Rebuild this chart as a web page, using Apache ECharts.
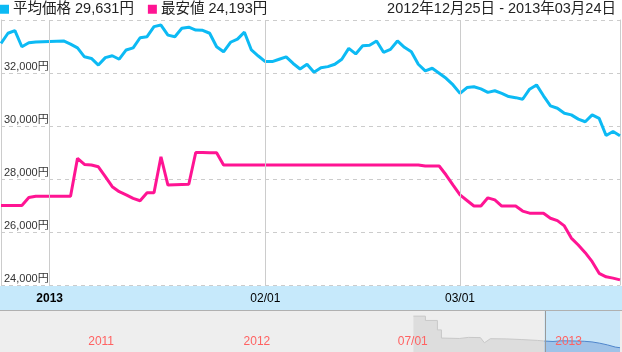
<!DOCTYPE html>
<html><head><meta charset="utf-8">
<script src="https://cdn.jsdelivr.net/npm/echarts@6/dist/echarts.min.js"></script>
<style>html,body{margin:0;padding:0;background:#fff}#c{width:622px;height:352px}</style>
</head><body><div id="c"></div>
<script>
const startDate = [2012, 11, 25];
const dayCount = 90;
const seriesNames = ['平均価格', '最安値'];
const avgPrice = [
  33120,33500,33600,32990,33140,33170,33180,33190,33200,33210,
  33090,32950,32610,32550,32300,32580,32650,32520,32870,32950,
  33330,33370,33750,33810,33430,33370,33690,33730,33620,33610,
  33500,32990,32800,33160,33280,33540,32870,32640,32430,32430,
  32520,32610,32360,32150,32330,32030,32200,32240,32330,32520,
  32930,32720,33030,33050,33210,32780,32890,33210,32970,32800,
  32330,32080,32180,31990,31800,31550,31230,31450,31480,31400,
  31270,31330,31230,31110,31070,31010,31390,31550,31140,30760,
  30670,30480,30420,30260,30160,30420,30290,29640,29790,29631
];
const minPrice = [
  27000,27000,27000,27000,27300,27350,27350,27350,27350,27350,
  27350,28780,28550,28530,28460,28090,27710,27520,27400,27270,
  27180,27480,27480,28840,27770,27780,27790,27800,29000,29000,
  28990,28990,28530,28530,28530,28530,28530,28530,28530,28530,
  28530,28530,28530,28530,28530,28530,28530,28530,28530,28530,
  28530,28530,28530,28530,28530,28530,28530,28530,28530,28530,
  28530,28490,28490,28490,28150,27770,27400,27190,26980,26980,
  27290,27210,26980,26980,26980,26790,26710,26710,26710,26520,
  26430,26230,25770,25510,25220,24880,24440,24310,24260,24193
];
const monthTickDays = [7, 38, 66];
const monthTickLabels = ['2013', '02/01', '03/01'];
const dateRangeText = '2012年12月25日 - 2013年03月24日';
const navTickLabels = ['2011', '2012', '07/01', '2013'];
const navPos = [2.004,2.081,2.081,2.158,2.158,2.184,2.184,2.30,2.357,2.434,2.460,2.498,2.60,2.70,2.80,2.845];
const navVal = [39000,39000,37000,37000,32600,32600,28800,28600,29100,29000,26600,28500,28400,28100,27700,27400];
const navSelPos = [2.845,2.90,2.95,3.00,3.05,3.10,3.15,3.20,3.25,3.30,3.33];
const navSelVal = [27400,27200,27500,27500,27400,27300,27000,26400,25600,24600,24300];

const categories = [];
(function () {
  const t0 = Date.UTC(startDate[0], startDate[1], startDate[2]);
  for (let i = 0; i < dayCount; i++) {
    categories.push(new Date(t0 + i * 86400000).toISOString().slice(0, 10));
  }
})();
const fmt = v => String(v).replace(/\B(?=(\d{3})+(?!\d))/g, ',');
const FONT = "'Liberation Sans', 'Noto Sans CJK JP', sans-serif";
const BLUE = '#0cbaf4', PINK = '#ff1493';

const chart = echarts.init(document.getElementById('c'), null, {renderer: 'canvas'});
chart.setOption({
  animation: false,
  textStyle: {fontFamily: FONT},
  title: {
    text: dateRangeText, right: 6, top: 2, padding: 0,
    textStyle: {fontSize: 14.5, fontWeight: 'normal', color: '#222', fontFamily: FONT}
  },
  legend: {
    data: seriesNames, left: 0, top: 2, padding: 0, icon: 'rect',
    itemWidth: 9, itemHeight: 9, itemGap: 14, selectedMode: false,
    textStyle: {fontSize: 14.5, color: '#222', fontFamily: FONT, padding: [0, 0, 0, -1]},
    formatter: name => {
      const arr = name === seriesNames[0] ? avgPrice : minPrice;
      return name + ' ' + fmt(arr[arr.length - 1]) + '円';
    }
  },
  graphic: [
    {type: 'rect', z: -10, shape: {x: 0, y: 286, width: 622, height: 25}, style: {fill: '#c6e9fb'}},
    {type: 'rect', z: -10, shape: {x: 0, y: 311, width: 622, height: 41}, style: {fill: '#eeeeee'}},
    {type: 'line', z: -5, shape: {x1: 0, y1: 310.5, x2: 622, y2: 310.5}, style: {stroke: '#b0b0b0', lineWidth: 1}}
  ],
  grid: [
    {left: 1, right: 2, top: 20, height: 265},
    {left: 0, right: 2, top: 311, height: 41}
  ],
  xAxis: [
    {
      type: 'category', data: categories, boundaryGap: false, gridIndex: 0, z: 10,
      axisLine: {show: false}, axisTick: {show: false},
      axisLabel: {
        interval: (idx) => monthTickDays.includes(idx),
        margin: 8, fontSize: 12, color: '#000', fontFamily: FONT,
        formatter: (val, idx) => {
          const k = monthTickDays.indexOf(idx);
          if (k < 0) return '';
          return k === 0 ? '{b|' + monthTickLabels[k] + '}' : monthTickLabels[k];
        },
        rich: {b: {fontWeight: 'bold', fontSize: 12, color: '#000', fontFamily: FONT}}
      },
      splitLine: {show: true, interval: (idx) => monthTickDays.includes(idx), lineStyle: {color: '#cccccc', width: 1, type: 'solid'}}
    },
    {
      type: 'value', gridIndex: 1, min: -0.649, max: 3.33, z: 10,
      axisLine: {show: false}, axisTick: {show: false}, splitLine: {show: false},
      axisLabel: {
        inside: true, margin: 4, fontSize: 12, color: '#ff6262', fontFamily: FONT,
        customValues: [0, 1, 2, 3], showMinLabel: true, showMaxLabel: true,
        formatter: v => (Number.isInteger(v) && v >= 0 && v < navTickLabels.length) ? navTickLabels[v] : ''
      }
    }
  ],
  yAxis: [
    {
      type: 'value', gridIndex: 0, min: 24000, max: 34000, interval: 2000,
      axisLine: {show: true, lineStyle: {color: '#cccccc'}}, axisTick: {show: false},
      axisLabel: {
        inside: true, margin: 3, fontSize: 11, color: '#333', fontFamily: FONT,
        verticalAlign: 'bottom', showMaxLabel: false, padding: [0, 0, 1, 0],
        formatter: v => fmt(v) + '円'
      },
      splitLine: {show: true, lineStyle: {color: '#cccccc', type: [4, 4], width: 1}}
    },
    {
      type: 'value', gridIndex: 0, min: 24000, max: 34000, interval: 2000, position: 'right',
      axisLine: {show: true, lineStyle: {color: '#cccccc'}}, axisTick: {show: false},
      axisLabel: {show: false}, splitLine: {show: false}
    },
    {type: 'value', gridIndex: 1, min: 22300, max: 41400, show: false}
  ],
  series: [
    {
      name: seriesNames[0], type: 'line', data: avgPrice, showSymbol: false, symbol: 'none',
      lineStyle: {color: BLUE, width: 3}, itemStyle: {color: BLUE}, z: 3
    },
    {
      name: seriesNames[1], type: 'line', data: minPrice, showSymbol: false, symbol: 'none',
      lineStyle: {color: PINK, width: 3}, itemStyle: {color: PINK}, z: 3
    },
    {
      type: 'line', xAxisIndex: 1, yAxisIndex: 2, showSymbol: false, symbol: 'none', z: 1,
      data: navPos.map((u, i) => [u, navVal[i]]),
      lineStyle: {color: '#c8c8c8', width: 1}, areaStyle: {color: '#dddddd', opacity: 1}
    },
    {
      type: 'line', xAxisIndex: 1, yAxisIndex: 2, showSymbol: false, symbol: 'none', z: 1,
      data: navSelPos.map((u, i) => [u, navSelVal[i]]),
      lineStyle: {color: '#4f86cc', width: 1}, areaStyle: {color: '#9fc3e8', opacity: 1},
      markArea: {silent: true, itemStyle: {color: '#c9e6f8'}, data: [[{xAxis: navSelPos[0]}, {xAxis: 3.33}]]},
      markLine: {silent: true, symbol: 'none', label: {show: false}, lineStyle: {color: '#999', width: 1, type: 'solid'}, data: [{xAxis: navSelPos[0]}]}
    }
  ]
});
</script></body></html>
